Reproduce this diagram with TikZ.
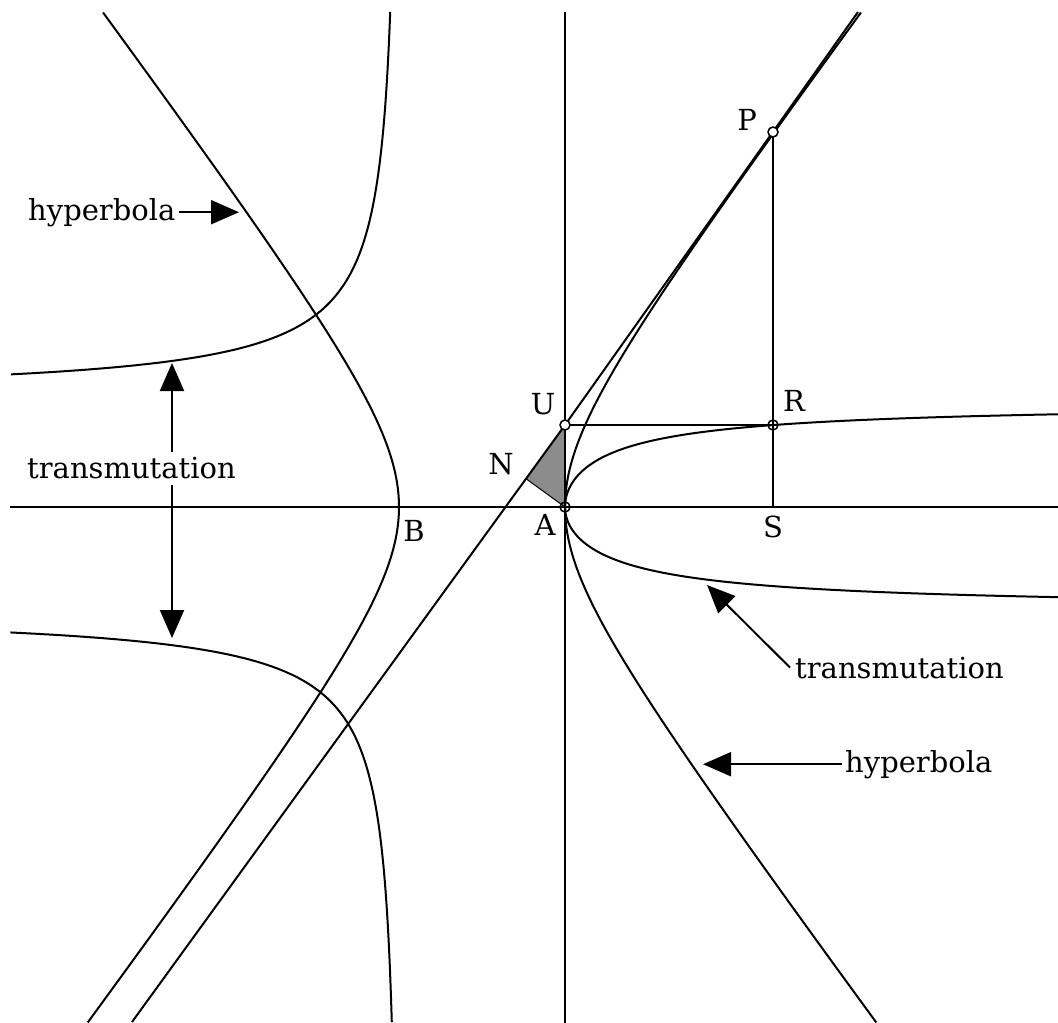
\documentclass[tikz,border=0pt]{standalone}
\usepackage{fontspec}
\setmainfont{DejaVu Serif}
\usetikzlibrary{arrows.meta,calc}
\begin{document}
\begin{tikzpicture}[x=1pt,y=-1pt,
  curve/.style={line width=2pt},
  arr/.style={line width=2pt,-{Triangle[length=28pt,width=24pt]}},
  lbl/.style={font=\fontsize{29}{34}\selectfont, inner sep=0pt},
  pt/.style={circle,draw,line width=1.5pt,minimum size=10pt,inner sep=0pt}]
\useasboundingbox (0,0) rectangle (1058,1023);

% key points
\coordinate (cA) at (565,507);
\coordinate (cU) at (565,425);
\coordinate (cP) at (773,132);
\coordinate (cR) at (773,425);
\coordinate (cS) at (773,507);
\coordinate (Ttop) at (858,12);
\coordinate (Tbot) at (132,1022);
\coordinate (cN) at ($(cU)!(cA)!(Tbot)$);
\coordinate (axL) at (10,507);
\coordinate (axR) at (1058,507);
\coordinate (axT) at (565,12);
\coordinate (axB) at (565,1023);

% shaded characteristic triangle
\fill[black!45] (cA) -- (cU) -- (cN) -- cycle;
\draw[line width=1pt] (cA) -- (cN);

% axes
\draw[curve] (axL) -- (axR);
\draw[curve] (axT) -- (axB);

% tangent line
\draw[curve] (Ttop) -- (cU) -- (Tbot);

% ordinate and horizontal
\draw[curve] (cP) -- (cS);
\draw[curve] (cU) -- (cR);

% hyperbola, both branches
\draw[curve] plot[domain=-2.24:2.20, samples=120, variable=\t]
  ({482+83*cosh(\t)}, {507-111*sinh(\t)});
\draw[curve] plot[domain=-2.24:2.20, samples=120, variable=\t]
  ({482-83*cosh(\t)}, {507-111*sinh(\t)});

% left transmutation curves
\draw[curve] plot[domain=0.4564:2.4235, samples=160, variable=\t]
  ({482-83*cosh(\t)}, {507-111/tanh(\t/2)});
\draw[curve] plot[domain=0.4137:2.4235, samples=160, variable=\t]
  ({482-83*cosh(\t)}, {507+105/tanh(\t/2)});

% right transmutation curves
\draw[curve] plot[domain=0:0.8935, samples=140, variable=\u]
  ({565+127*\u*\u/(1-\u*\u)}, {507-104*\u});
\draw[curve] plot[domain=0:0.8855, samples=140, variable=\u]
  ({565+138*\u*\u/(1-\u*\u)}, {507+102*\u});

% point markers
\node[pt,fill=white] (P) at (cP) {};
\node[pt,fill=white] (U) at (cU) {};
\node[pt] (A) at (cA) {};
\node[pt] (R) at (cR) {};

% point labels
\node[lbl] (lP) at (747,120) {P};
\node[lbl] (lU) at (543,404) {U};
\node[lbl] (lN) at (501,464) {N};
\node[lbl] (lA) at (545,525) {A};
\node[lbl] (lB) at (414,531) {B};
\node[lbl] (lR) at (794,401) {R};
\node[lbl] (lS) at (773,527) {S};

% text labels
\node[lbl,anchor=base west] (hl) at (28,220) {hyperbola};
\node[lbl,anchor=base west] (hr) at (845,772) {hyperbola};
\node[lbl,anchor=base west] (tl) at (27,478) {transmutation};
\node[lbl,anchor=base west] (tr) at (795,678) {transmutation};

% arrow targets
\coordinate (hlT) at (239,0);
\coordinate (hrT) at (703,0);
\coordinate (tuT) at (172,363);
\coordinate (tlT) at (172,638);
\coordinate (trT) at (707,585);

% arrows
\draw[arr] ($(hl.east)+(3,0)$) -- (hl.east -| hlT);
\draw[arr] ($(hr.west)+(-3,0)$) -- (hr.west -| hrT);
\draw[arr] ($(tl.north -| tuT)+(0,-4)$) -- (tuT);
\draw[arr] ($(tl.base -| tlT)+(0,7)$) -- (tlT);
\draw[arr] ($(tr.west)+(-5,0)$) -- (trT);
\end{tikzpicture}
\end{document}
